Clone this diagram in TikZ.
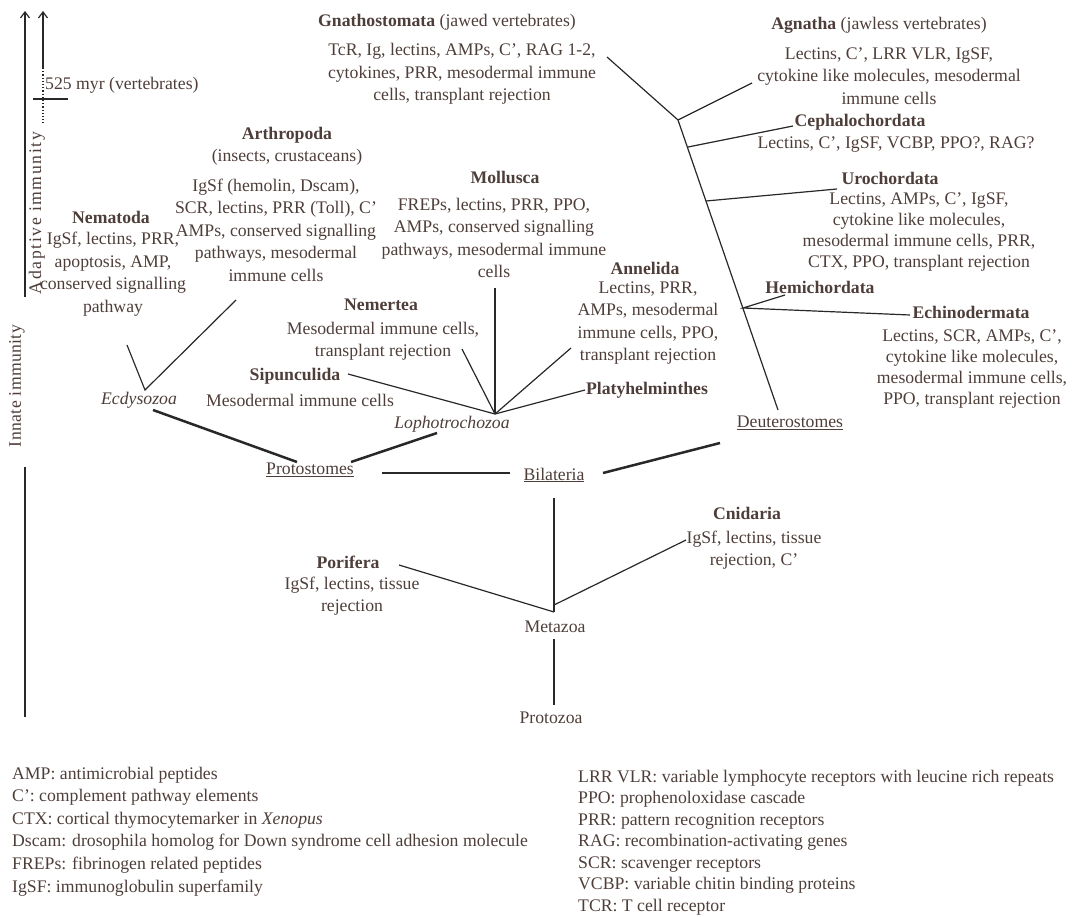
\documentclass[tikz,border=0pt]{standalone}
\usepackage{fontspec}
\setmainfont{Liberation Serif}
\newfontfamily\spacedA[LetterSpace=9]{Liberation Serif}
\newfontfamily\spacedB[LetterSpace=2]{Liberation Serif}
\usetikzlibrary{arrows.meta}
\definecolor{txt}{RGB}{78,62,58}
\definecolor{ln}{RGB}{40,40,40}
\begin{document}
\begin{tikzpicture}[x=1pt,y=-1pt,
  every node/.style={text=txt,font=\fontsize{17.7}{22.5}\selectfont,inner sep=0pt},
  lbl/.style={align=center},
  tight/.style={align=center,font=\fontsize{17.7}{21}\selectfont},
  lg/.style={anchor=west,text height=12pt,text depth=4pt},
  br/.style={draw=ln,line width=1.2pt},
  trunk/.style={draw=ln,line width=2.5pt},
  up/.style={-{Straight Barb[length=6pt,width=9pt]}}]
\useasboundingbox (0,0) rectangle (1078,917);
% ---------- axis ----------
\coordinate (axA0) at (25,297); \coordinate (axA1) at (25,11);
\draw[br,up] (axA0) -- (axA1);
\coordinate (axB0) at (43,68); \coordinate (axB1) at (43,11); \coordinate (axB2) at (43,123);
\draw[br,up] (axB0) -- (axB1);
\draw[br,dotted] (axB0) -- (axB2);
\coordinate (tk0) at (33,99); \coordinate (tk1) at (68,99);
\draw[br] (tk0) -- (tk1);
\node[anchor=west] (myr) at (45,85) {525 myr (vertebrates)};
\node[rotate=90] (adapt) at (37,213) {\spacedA Adaptive immunity};
\node[rotate=90] (innate) at (17,386) {\spacedB Innate immunity};
\coordinate (axC0) at (25,467); \coordinate (axC1) at (25,717);
\draw[br] (axC0) -- (axC1);
% ---------- deuterostomes ----------
\node (gnaT) at (447,22) {\textbf{Gnathostomata} (jawed vertebrates)};
\node[lbl] (gnaB) at (462,74) {TcR, Ig, lectins, AMPs, C’, RAG 1-2,\\cytokines, PRR, mesodermal immune\\cells, transplant rejection};
\node (agnT) at (879,25) {\textbf{Agnatha} (jawless vertebrates)};
\node[lbl] (agnB) at (889,76) {Lectins, C’, LRR VLR, IgSF,\\cytokine like molecules, mesodermal\\immune cells};
\node (cepT) at (860,122) {\textbf{Cephalochordata}};
\node (cepB) at (896,145) {Lectins, C’, IgSF, VCBP, PPO?, RAG?};
\node (uroT) at (890,178) {\textbf{Urochordata}};
\node[tight] (uroB) at (919,232) {Lectins, AMPs, C’, IgSF,\\cytokine like molecules,\\mesodermal immune cells, PRR,\\CTX, PPO, transplant rejection};
\node (hemT) at (820,287) {\textbf{Hemichordata}};
\node (echT) at (971,312) {\textbf{Echinodermata}};
\node[tight] (echB) at (972,369) {Lectins, SCR, AMPs, C’,\\cytokine like molecules,\\mesodermal immune cells,\\PPO, transplant rejection};
\node (deu) at (790,423) {\underline{Deuterostomes}};
\coordinate (gnaE) at (607,57); \coordinate (J1) at (678,120); \coordinate (J2) at (688,147);
\coordinate (J3) at (743,308); \coordinate (Jd) at (778,410);
\coordinate (agnE) at (752,83); \coordinate (cepE) at (793,126);
\coordinate (uroS) at (706,201); \coordinate (uroE) at (837,189);
\coordinate (hemE) at (785,295); \coordinate (echE) at (910,315);
\draw[br] (gnaE) -- (J1) -- (Jd);
\draw[br] (J1) -- (agnE);
\draw[br] (J2) -- (cepE);
\draw[br] (uroS) -- (uroE);
\draw[br] (hemE) -- (J3) -- (echE);
% ---------- protostomes ----------
\node (artT) at (287,135) {\textbf{Arthropoda}};
\node (artS) at (287,157) {(insects, crustaceans)};
\node[lbl] (artB) at (276,230) {IgSf (hemolin, Dscam),\\SCR, lectins, PRR (Toll), C’\\AMPs, conserved signalling\\pathways, mesodermal\\immune cells};
\node (nemT) at (111,217) {\textbf{Nematoda}};
\node[lbl] (nemB) at (113,274) {IgSf, lectins, PRR,\\apoptosis, AMP,\\conserved signalling\\pathway};
\node (molT) at (505,177) {\textbf{Mollusca}};
\node[lbl] (molB) at (494,238) {FREPs, lectins, PRR, PPO,\\AMPs, conserved signalling\\pathways, mesodermal immune\\cells};
\node (annT) at (645,268) {\textbf{Annelida}};
\node[lbl] (annB) at (648,323) {Lectins, PRR,\\AMPs, mesodermal\\immune cells, PPO,\\transplant rejection};
\node (nmtT) at (381,305) {\textbf{Nemertea}};
\node[lbl] (nmtB) at (383,341) {Mesodermal immune cells,\\transplant rejection};
\node (sipT) at (295,376) {\textbf{Sipunculida}};
\node (sipB) at (300,400) {Mesodermal immune cells};
\node (lop) at (452,424) {\textit{Lophotrochozoa}};
\node (pla) at (647,390) {\textbf{Platyhelminthes}};
\node (ecd) at (139,400) {\textit{Ecdysozoa}};
\node (pro) at (310,470) {\underline{Protostomes}};
\node (bil) at (554,475) {\underline{Bilateria}};
\coordinate (E) at (145,390); \coordinate (nemE) at (127,345); \coordinate (artE) at (236,300);
\draw[br] (nemE) -- (E) -- (artE);
\coordinate (L) at (495,414); \coordinate (molE) at (495,288); \coordinate (nmtE) at (462,349);
\coordinate (annE) at (571,348); \coordinate (sipE) at (348,374); \coordinate (plaE) at (585,390);
\draw[br] (molE) -- (L);
\draw[br] (nmtE) -- (L);
\draw[br] (annE) -- (L);
\draw[br] (sipE) -- (L);
\draw[br] (plaE) -- (L);
\coordinate (ecdP) at (153,410); \coordinate (proL) at (297,462);
\coordinate (lopP) at (437,433); \coordinate (proR) at (351,462);
\coordinate (proB) at (382,473); \coordinate (bilP) at (510,473);
\coordinate (bilD) at (603,473); \coordinate (deuB) at (720,443);
\draw[trunk] (ecdP) -- (proL);
\draw[trunk] (lopP) -- (proR);
\draw[trunk] (proB) -- (bilP);
\draw[trunk] (bilD) -- (deuB);
% ---------- base ----------
\node (porT) at (348,562) {\textbf{Porifera}};
\node[lbl] (porB) at (352,596) {IgSf, lectins, tissue\\rejection};
\node (cniT) at (747,513) {\textbf{Cnidaria}};
\node[lbl] (cniB) at (754,550) {IgSf, lectins, tissue\\rejection, C’};
\node (met) at (555,627) {Metazoa};
\node (ptz) at (551,718) {Protozoa};
\coordinate (bilM) at (554,498); \coordinate (M) at (554,612); \coordinate (Mc) at (554,605);
\coordinate (porE) at (399,565); \coordinate (cniE) at (686,540);
\coordinate (metP) at (554,639); \coordinate (ptzM) at (554,705);
\draw[trunk] (bilM) -- (M);
\draw[br] (porE) -- (M);
\draw[br] (Mc) -- (cniE);
\draw[trunk] (metP) -- (ptzM);
% ---------- legend ----------
\node[lg] (l1) at (12,775) {AMP: antimicrobial peptides};
\node[lg] (l2) at (12,797.6) {C’: complement pathway elements};
\node[lg] (l3) at (12,820.2) {CTX: cortical thymocytemarker in \textit{Xenopus}};
\node[lg] (l4) at (12,842.8) {Dscam: drosophila homolog for Down syndrome cell adhesion molecule};
\node[lg] (l5) at (12,865.4) {FREPs: fibrinogen related peptides};
\node[lg] (l6) at (12,888) {IgSF: immunoglobulin superfamily};
\node[lg] (r1) at (578,778) {LRR VLR: variable lymphocyte receptors with leucine rich repeats};
\node[lg] (r2) at (578,799.5) {PPO: prophenoloxidase cascade};
\node[lg] (r3) at (578,821) {PRR: pattern recognition receptors};
\node[lg] (r4) at (578,842.5) {RAG: recombination-activating genes};
\node[lg] (r5) at (578,864) {SCR: scavenger receptors};
\node[lg] (r6) at (578,885.5) {VCBP: variable chitin binding proteins};
\node[lg] (r7) at (578,907) {TCR: T cell receptor};
\end{tikzpicture}
\end{document}
